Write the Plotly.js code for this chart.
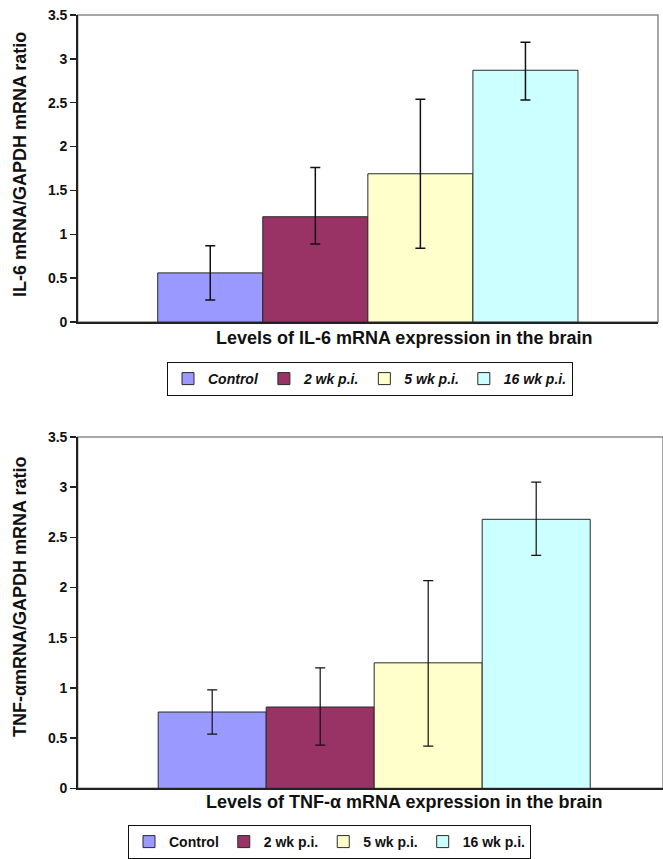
<!DOCTYPE html>
<html>
<head>
<meta charset="utf-8">
<script src="https://cdn.plot.ly/plotly-3.0.1.min.js"></script>
<style>
html,body{margin:0;padding:0;background:#fff;}
#chart{width:663px;height:859px;}
</style>
</head>
<body>
<div id="chart"></div>
<script>
// ---- data ----
const categories = ['Control', '2 wk p.i.', '5 wk p.i.', '16 wk p.i.'];
const il6Values = [0.56, 1.20, 1.69, 2.87];
const il6ErrPlus = [0.31, 0.56, 0.85, 0.32];
const il6ErrMinus = [0.31, 0.31, 0.85, 0.34];
const tnfValues = [0.76, 0.81, 1.25, 2.68];
const tnfErrPlus = [0.22, 0.39, 0.82, 0.37];
const tnfErrMinus = [0.22, 0.38, 0.83, 0.36];
const yTickValues = [0, 0.5, 1, 1.5, 2, 2.5, 3, 3.5];
const yTickLabels = ['0', '0.5', '1', '1.5', '2', '2.5', '3', '3.5'];
const il6YTitle = 'IL-6 mRNA/GAPDH mRNA ratio';
const il6XTitle = 'Levels of IL-6 mRNA expression in the brain';
const tnfYTitle = 'TNF-αmRNA/GAPDH mRNA ratio';
const tnfXTitle = 'Levels of TNF-α mRNA expression in the brain';

// ---- styles ----
const colors = ['#9999ff', '#993366', '#ffffcc', '#ccffff'];
const FONT = 'Liberation Sans, Arial, sans-serif';
const W = 663, H = 859;
const px = v => v / W;
const py = v => 1 - v / H;

const traces = [];
categories.forEach((c, i) => {
  traces.push({
    type: 'bar', name: c, x: ['IL-6'], y: [il6Values[i]],
    xaxis: 'x', yaxis: 'y', legend: 'legend',
    marker: {color: colors[i], line: {color: '#2a2a2a', width: 1}},
    error_y: {type: 'data', symmetric: false, array: [il6ErrPlus[i]], arrayminus: [il6ErrMinus[i]],
      color: '#111', thickness: 1.5, width: 5},
    hoverinfo: 'y'
  });
});
categories.forEach((c, i) => {
  traces.push({
    type: 'bar', name: c, x: ['TNF'], y: [tnfValues[i]],
    xaxis: 'x2', yaxis: 'y2', legend: 'legend2',
    marker: {color: colors[i], line: {color: '#2a2a2a', width: 1}},
    error_y: {type: 'data', symmetric: false, array: [tnfErrPlus[i]], arrayminus: [tnfErrMinus[i]],
      color: '#111', thickness: 1.2, width: 5},
    hoverinfo: 'y'
  });
});

function xAxis(domain, anchor, range) {
  return {domain: domain, anchor: anchor, range: range, showticklabels: false, ticks: '',
    showline: true, linecolor: '#222', linewidth: 1.5, showgrid: false, zeroline: false, fixedrange: true};
}
function yAxis(domain, anchor) {
  return {domain: domain, anchor: anchor, range: [0, 3.5], tickvals: yTickValues, ticktext: yTickLabels,
    ticks: 'outside', ticklen: 6, tickwidth: 1.5, tickcolor: '#222',
    showline: true, linecolor: '#222', linewidth: 1.5, showgrid: false, zeroline: false,
    tickfont: {family: FONT, size: 14, color: '#111', weight: 'bold'}, fixedrange: true};
}

const titleFont = {family: FONT, size: 18, color: '#111', weight: 'bold'};

const layout = {
  width: W, height: H,
  margin: {l: 0, r: 0, t: 0, b: 0},
  paper_bgcolor: '#fff', plot_bgcolor: '#fff',
  barmode: 'group', bargap: 0.27, bargroupgap: 0,
  xaxis: xAxis([px(77.7), px(658)], 'y', [-0.504, 0.504]),
  yaxis: yAxis([py(322), py(15)], 'x'),
  xaxis2: xAxis([px(77.7), 1], 'y2', [-0.501, 0.488]),
  yaxis2: yAxis([py(788.3), py(437)], 'x2'),
  shapes: [
    {type: 'rect', xref: 'x domain', yref: 'y domain', x0: 0, x1: 1, y0: 0, y1: 1,
      line: {color: '#8a8a8a', width: 1.5}, layer: 'below'},
    {type: 'rect', xref: 'x2 domain', yref: 'y2 domain', x0: 0, x1: 1, y0: 0, y1: 1,
      line: {color: '#8a8a8a', width: 1.5}, layer: 'below'}
  ],
  annotations: [
    {text: il6YTitle, xref: 'paper', yref: 'paper', x: px(20), y: py(165), textangle: -90,
      showarrow: false, font: titleFont, xanchor: 'center', yanchor: 'middle'},
    {text: il6XTitle, xref: 'paper', yref: 'paper', x: px(404), y: py(338),
      showarrow: false, font: titleFont, xanchor: 'center', yanchor: 'middle'},
    {text: tnfYTitle, xref: 'paper', yref: 'paper', x: px(20), y: py(597), textangle: -90,
      showarrow: false, font: titleFont, xanchor: 'center', yanchor: 'middle'},
    {text: tnfXTitle, xref: 'paper', yref: 'paper', x: px(404), y: py(802),
      showarrow: false, font: titleFont, xanchor: 'center', yanchor: 'middle'}
  ],
  legend: {orientation: 'h', x: px(167), y: py(362), xanchor: 'left', yanchor: 'top',
    bordercolor: '#111', borderwidth: 1, bgcolor: '#fff', traceorder: 'normal',
    font: {family: FONT, size: 14, color: '#111', weight: 'bold', style: 'italic'}},
  legend2: {orientation: 'h', x: px(128), y: py(825), xanchor: 'left', yanchor: 'top',
    bordercolor: '#111', borderwidth: 1, bgcolor: '#fff', traceorder: 'normal',
    font: {family: FONT, size: 14, color: '#111', weight: 'bold'}},
  showlegend: true
};

Plotly.newPlot('chart', traces, layout, {displayModeBar: false, staticPlot: true});
</script>
</body>
</html>
